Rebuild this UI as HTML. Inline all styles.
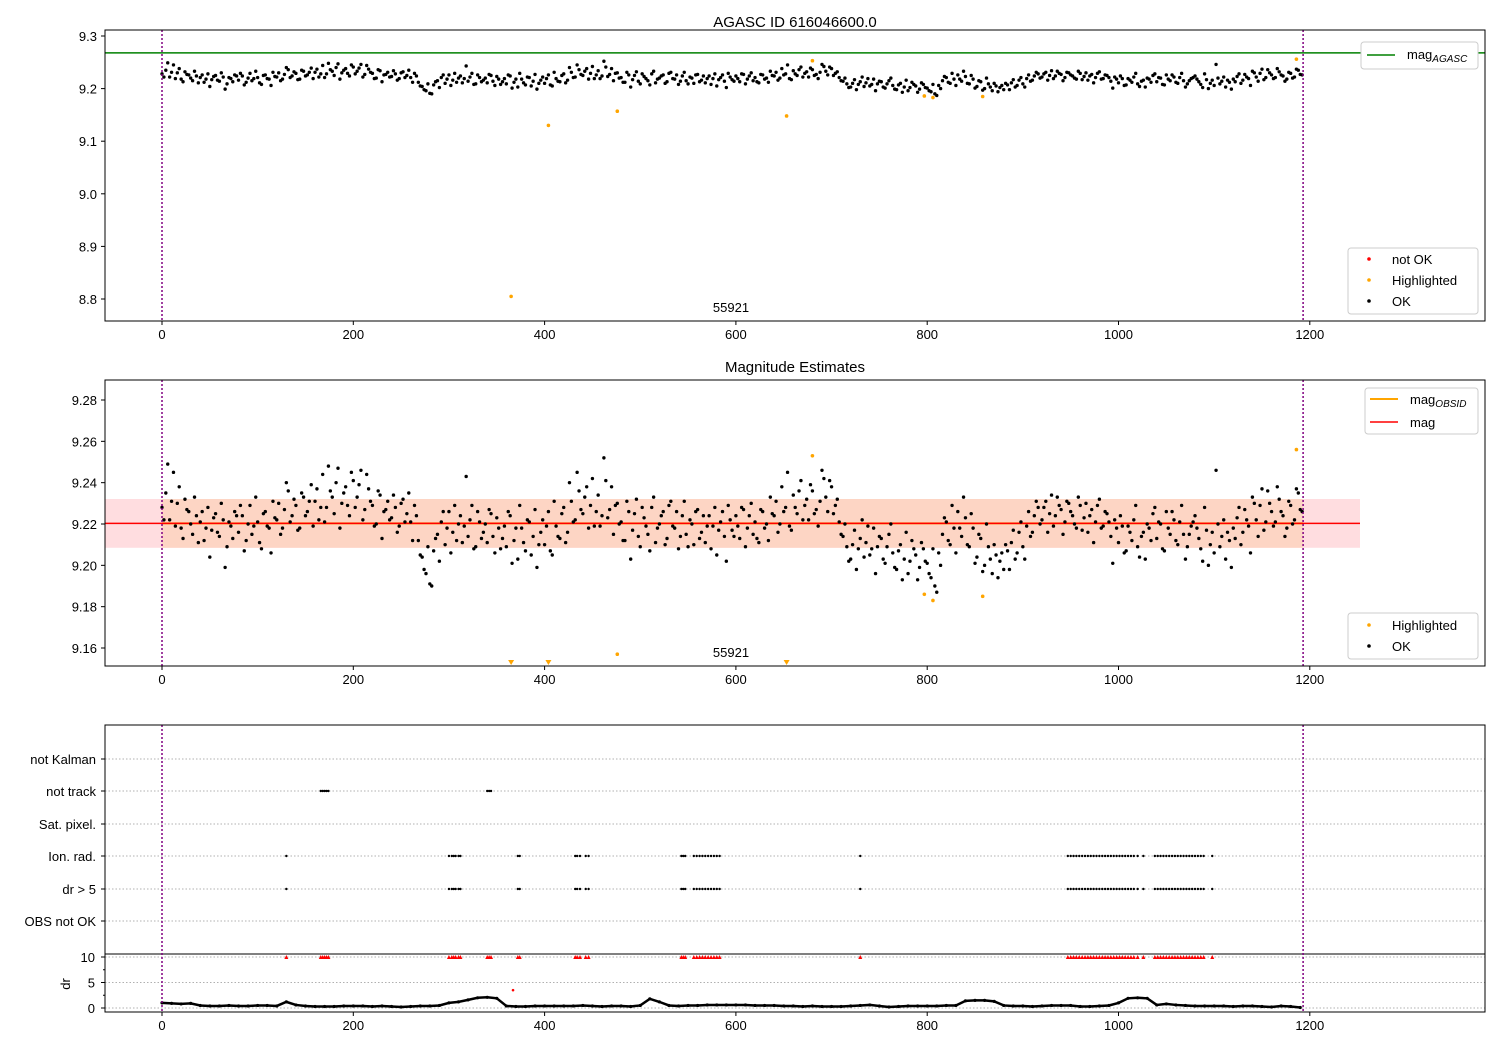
<!DOCTYPE html>
<html><head><meta charset="utf-8"><style>
body{margin:0;background:#fff;}
svg{font-family:"Liberation Sans","DejaVu Sans",sans-serif;}
</style></head><body>
<svg id="c" width="1500" height="1050" xmlns="http://www.w3.org/2000/svg"></svg>
<script>
const magTimesStep = 4;
const magValues = [
9.228,9.235,9.222,9.245,9.230,9.218,9.232,9.226,9.215,9.224,
9.221,9.212,9.228,9.217,9.225,9.214,9.222,9.209,9.219,9.226,
9.216,9.224,9.212,9.229,9.219,9.221,9.208,9.226,9.218,9.231,
9.222,9.215,9.227,9.236,9.224,9.229,9.218,9.233,9.226,9.239,
9.231,9.222,9.244,9.228,9.236,9.225,9.247,9.230,9.238,9.224,
9.241,9.233,9.246,9.227,9.237,9.229,9.220,9.234,9.226,9.231,
9.223,9.228,9.219,9.232,9.225,9.221,9.229,9.212,9.204,9.196,
9.191,9.207,9.215,9.221,9.210,9.226,9.216,9.212,9.224,9.219,
9.214,9.229,9.209,9.221,9.216,9.211,9.225,9.206,9.218,9.213,
9.209,9.224,9.212,9.203,9.218,9.207,9.221,9.214,9.199,9.216,
9.210,9.226,9.205,9.219,9.213,9.228,9.216,9.231,9.222,9.236,
9.225,9.238,9.229,9.219,9.234,9.224,9.241,9.227,9.215,9.230,
9.221,9.212,9.226,9.217,9.232,9.209,9.223,9.215,9.228,9.211,
9.220,9.226,9.213,9.231,9.218,9.208,9.224,9.215,9.222,9.210,
9.227,9.216,9.211,9.224,9.219,9.205,9.221,9.214,9.229,9.217,
9.224,9.213,9.227,9.218,9.230,9.221,9.211,9.226,9.220,9.233,
9.224,9.216,9.238,9.228,9.219,9.234,9.225,9.241,9.229,9.222,
9.236,9.227,9.231,9.242,9.226,9.238,9.229,9.221,9.214,9.209,
9.203,9.217,9.208,9.222,9.211,9.205,9.218,9.209,9.213,9.201,
9.215,9.206,9.198,9.210,9.203,9.196,9.212,9.205,9.199,9.208,
9.201,9.194,9.190,9.206,9.215,9.221,9.210,9.218,9.226,9.214,
9.223,9.209,9.218,9.204,9.213,9.200,9.209,9.196,9.205,9.202,
9.198,9.207,9.211,9.203,9.216,9.209,9.219,9.214,9.224,9.228,
9.222,9.231,9.225,9.219,9.233,9.227,9.221,9.230,9.224,9.218,
9.229,9.223,9.216,9.227,9.221,9.232,9.219,9.225,9.214,9.222,
9.211,9.219,9.207,9.216,9.222,9.209,9.214,9.203,9.218,9.225,
9.213,9.220,9.207,9.218,9.226,9.212,9.221,9.215,9.209,9.219,
9.224,9.213,9.202,9.217,9.210,9.206,9.220,9.214,9.203,9.212,
9.218,9.223,9.210,9.227,9.219,9.233,9.222,9.229,9.217,9.236,
9.226,9.221,9.232,9.224,9.218,9.229,9.222,9.235,9.226];
// second interleaved set at t = 2, 6, 10, ...
const magValuesB = [
9.222,9.249,9.231,9.219,9.238,9.213,9.227,9.220,9.233,9.211,
9.226,9.218,9.204,9.223,9.216,9.230,9.199,9.221,9.213,9.224,
9.229,9.207,9.220,9.215,9.233,9.211,9.225,9.219,9.206,9.223,
9.230,9.218,9.240,9.221,9.232,9.217,9.235,9.224,9.231,9.219,
9.237,9.228,9.221,9.248,9.233,9.240,9.218,9.235,9.229,9.245,
9.228,9.239,9.222,9.244,9.231,9.219,9.236,9.213,9.227,9.222,
9.234,9.216,9.230,9.221,9.235,9.212,9.224,9.205,9.198,9.209,
9.190,9.213,9.202,9.226,9.218,9.206,9.229,9.220,9.211,9.243,
9.222,9.208,9.226,9.213,9.220,9.227,9.214,9.223,9.208,9.219,
9.226,9.201,9.218,9.229,9.211,9.222,9.205,9.227,9.210,9.222,
9.219,9.207,9.231,9.214,9.225,9.211,9.240,9.221,9.245,9.227,
9.233,9.218,9.242,9.226,9.219,9.252,9.223,9.238,9.229,9.220,
9.212,9.231,9.203,9.225,9.214,9.228,9.219,9.207,9.233,9.218,
9.224,9.210,9.229,9.219,9.226,9.214,9.231,9.209,9.220,9.226,
9.213,9.224,9.219,9.208,9.228,9.217,9.226,9.202,9.222,9.214,
9.219,9.228,9.209,9.224,9.215,9.213,9.227,9.218,9.212,9.225,
9.231,9.220,9.226,9.245,9.217,9.228,9.236,9.222,9.232,9.239,
9.225,9.219,9.246,9.233,9.241,9.225,9.232,9.215,9.220,9.202,
9.210,9.198,9.213,9.204,9.219,9.208,9.196,9.214,9.203,9.209,
9.220,9.199,9.207,9.193,9.216,9.202,9.208,9.193,9.211,9.202,
9.196,9.208,9.187,9.200,9.223,9.212,9.229,9.206,9.218,9.233,
9.210,9.225,9.201,9.215,9.197,9.220,9.203,9.210,9.194,9.206,
9.210,9.198,9.217,9.206,9.221,9.203,9.226,9.216,9.231,9.220,
9.228,9.216,9.234,9.224,9.229,9.215,9.231,9.226,9.220,9.233,
9.217,9.230,9.224,9.211,9.229,9.218,9.226,9.221,9.201,9.218,
9.224,9.206,9.219,9.212,9.229,9.204,9.216,9.220,9.212,9.228,
9.221,9.208,9.226,9.215,9.222,9.210,9.229,9.203,9.215,9.221,
9.218,9.208,9.228,9.200,9.216,9.246,9.209,9.222,9.216,9.199,
9.213,9.228,9.216,9.222,9.206,9.230,9.214,9.237,9.221,9.230,
9.219,9.238,9.226,9.214,9.231,9.220,9.237,9.227];
const hiTimes = [365,404,476,653,680,797,806,858,1186];
const hiValues = [8.805,9.13,9.157,9.148,9.253,9.186,9.183,9.185,9.256];
const drStep = 10;
const drValues = [
1.0,0.9,0.8,0.9,0.5,0.4,0.4,0.5,0.4,0.4,
0.5,0.5,0.4,1.2,0.6,0.4,0.3,0.3,0.3,0.4,
0.4,0.4,0.3,0.4,0.3,0.2,0.3,0.4,0.4,0.5,
1.0,1.2,1.6,2.0,2.1,1.9,0.4,0.3,0.3,0.4,
0.4,0.4,0.4,0.4,0.5,0.4,0.3,0.4,0.4,0.3,
0.5,1.8,1.2,0.5,0.4,0.5,0.5,0.6,0.6,0.6,
0.6,0.6,0.5,0.5,0.5,0.4,0.4,0.3,0.4,0.3,
0.3,0.3,0.4,0.5,0.6,0.4,0.2,0.3,0.4,0.4,
0.4,0.4,0.5,0.5,1.4,1.5,1.5,1.3,0.5,0.4,
0.4,0.3,0.4,0.5,0.5,0.5,0.3,0.3,0.4,0.5,
1.0,1.9,2.0,1.9,0.6,0.8,0.6,0.5,0.4,0.4,
0.4,0.4,0.3,0.4,0.4,0.3,0.2,0.4,0.3,0.1];
const ionTimes = [130,300,303,305,307,310,312,372,374,432,434,437,443,446,543,545,547,556,559,562,565,568,571,574,577,580,583,730,
947,950,953,956,959,962,965,968,971,974,977,980,983,986,989,992,995,998,1001,1004,1007,1010,1013,1016,1020,1026,
1038,1041,1044,1047,1050,1053,1056,1059,1062,1065,1068,1071,1074,1077,1080,1083,1086,1089,1098];
const notTrackTimes = [166,168,170,172,174,340,342,344];
const flagRows = ["not Kalman","not track","Sat. pixel.","Ion. rad.","dr > 5","OBS not OK"];
const xTicks = [0,200,400,600,800,1000,1200];
const y1Ticks = [9.3,9.2,9.1,9.0,8.9,8.8];
const y2Ticks = [9.28,9.26,9.24,9.22,9.20,9.18,9.16];
const drTicks = [0,5,10];
const magAgasc = 9.268, magObs = 9.2203, magSigma = 0.0118;
const tEnd = 1193;

const NS="http://www.w3.org/2000/svg", svg=document.getElementById('c');
function el(tag, attrs, parent){const e=document.createElementNS(NS,tag);for(const k in attrs)e.setAttribute(k,attrs[k]);(parent||svg).appendChild(e);return e;}
function txt(s,x,y,anchor,size,parent){const t=el('text',{x:x,y:y,'text-anchor':anchor||'middle','font-size':size||13,fill:'#000'},parent);t.textContent=s;return t;}
const X0=105,X1=1485;
const xs=t=>162+t*0.9565;
const y1=v=>36+(9.3-v)*526;
const y2=v=>400+(9.28-v)*2066.7;
const yDr=v=>1008-v*5.1;
const rowY=[759,791,824,856,889,921];
const allMag=[];
magValues.forEach((v,i)=>allMag.push([i*magTimesStep,v]));
magValuesB.forEach((v,i)=>allMag.push([2+i*magTimesStep,v]));

function frame(top,bot,name){const r=el('rect',{x:X0,y:top,width:X1-X0,height:bot-top,fill:'none',stroke:'#000','stroke-width':1});

}
function xAxis(bot,name){const g=el('g',{});


xTicks.forEach(t=>{el('line',{x1:xs(t),x2:xs(t),y1:bot,y2:bot+4,stroke:'#000'},g);txt(String(t),xs(t),bot+18,'middle',13,g);});}
function vlines(top,bot){[0,tEnd].forEach(t=>{const l=el('line',{x1:xs(t),x2:xs(t),y1:top,y2:bot,stroke:'purple','stroke-width':1.5,'stroke-dasharray':'2,2'});

});}

// ---- Panel 1
txt('AGASC ID 616046600.0',795,27,'middle',15);
const g1=el('g',{});


y1Ticks.forEach(v=>{el('line',{x1:X0-4,x2:X0,y1:y1(v),y2:y1(v),stroke:'#000'},g1);txt(v.toFixed(1),X0-8,y1(v)+5,'end',13,g1);});
const ag=el('line',{x1:X0,x2:X1,y1:y1(magAgasc),y2:y1(magAgasc),stroke:'green','stroke-width':1.5});


const p1=el('g',{});


allMag.forEach(p=>el('circle',{cx:xs(p[0]),cy:y1(p[1]),r:1.7,fill:'#000'},p1));
const h1=el('g',{});


hiTimes.forEach((t,i)=>el('circle',{cx:xs(t),cy:y1(hiValues[i]),r:1.8,fill:'orange'},h1));
vlines(30,321);
txt('55921',731,312,'middle',13);
frame(30,321,'panel1-frame');
xAxis(321,'panel1-x-axis');
let lg=el('g',{});


el('rect',{x:1361,y:42,width:117,height:27,rx:3,fill:'#fff',stroke:'#ccc'},lg);
el('line',{x1:1367,x2:1395,y1:55,y2:55,stroke:'green','stroke-width':1.5},lg);
let t=txt('mag',1407,59,'start',13,lg);const s=el('tspan',{'font-size':10,'font-style':'italic',dy:3},t);s.textContent='AGASC';
lg=el('g',{});


el('rect',{x:1348,y:248,width:130,height:66,rx:3,fill:'#fff',stroke:'#ccc'},lg);
[['red','not OK',259],['orange','Highlighted',280],['#000','OK',301]].forEach(a=>{el('circle',{cx:1369,cy:a[2],r:1.8,fill:a[0]},lg);txt(a[1],1392,a[2]+5,'start',13,lg);});

// ---- Panel 2
txt('Magnitude Estimates',795,372,'middle',15);
const g2=el('g',{});


y2Ticks.forEach(v=>{el('line',{x1:X0-4,x2:X0,y1:y2(v),y2:y2(v),stroke:'#000'},g2);txt(v.toFixed(2),X0-8,y2(v)+5,'end',13,g2);});
let b=el('rect',{x:X0,y:y2(magObs+magSigma),width:1360-X0,height:y2(magObs-magSigma)-y2(magObs+magSigma),fill:'#ffdde0'});


b=el('rect',{x:xs(0),y:y2(magObs+magSigma),width:xs(tEnd)-xs(0),height:y2(magObs-magSigma)-y2(magObs+magSigma),fill:'#fdd5c4'});


let l=el('line',{x1:xs(0),x2:xs(tEnd),y1:y2(magObs),y2:y2(magObs),stroke:'orange','stroke-width':2});


l=el('line',{x1:X0,x2:1360,y1:y2(magObs),y2:y2(magObs),stroke:'red','stroke-width':1.5});


const p2=el('g',{});


allMag.forEach(p=>el('circle',{cx:xs(p[0]),cy:y2(p[1]),r:1.7,fill:'#000'},p2));
const h2=el('g',{});


hiTimes.forEach((t,i)=>{const v=hiValues[i];if(v<9.151){const x=xs(t);el('path',{d:`M${x-3},660 L${x+3},660 L${x},665 Z`,fill:'orange'},h2);}else el('circle',{cx:xs(t),cy:y2(v),r:1.8,fill:'orange'},h2);});
vlines(380,666);
txt('55921',731,657,'middle',13);
frame(380,666,'panel2-frame');
xAxis(666,'panel2-x-axis');
lg=el('g',{});


el('rect',{x:1365,y:388,width:113,height:46,rx:3,fill:'#fff',stroke:'#ccc'},lg);
el('line',{x1:1370,x2:1398,y1:399,y2:399,stroke:'orange','stroke-width':2},lg);
t=txt('mag',1410,404,'start',13,lg);const s2=el('tspan',{'font-size':10,'font-style':'italic',dy:3},t);s2.textContent='OBSID';
el('line',{x1:1370,x2:1398,y1:422,y2:422,stroke:'red','stroke-width':1.5},lg);
txt('mag',1410,427,'start',13,lg);
lg=el('g',{});


el('rect',{x:1348,y:613,width:130,height:46,rx:3,fill:'#fff',stroke:'#ccc'},lg);
[['orange','Highlighted',625],['#000','OK',646]].forEach(a=>{el('circle',{cx:1369,cy:a[2],r:1.8,fill:a[0]},lg);txt(a[1],1392,a[2]+5,'start',13,lg);});

// ---- Panel 3
const g3=el('g',{});


flagRows.forEach((n,i)=>{el('line',{x1:X0,x2:X1,y1:rowY[i],y2:rowY[i],stroke:'#b0b0b0','stroke-dasharray':'1.5,2'},g3);el('line',{x1:X0-4,x2:X0,y1:rowY[i],y2:rowY[i],stroke:'#000'},g3);txt(n,96,rowY[i]+5,'end',13,g3);});
drTicks.forEach(v=>{el('line',{x1:X0,x2:X1,y1:yDr(v),y2:yDr(v),stroke:'#b0b0b0','stroke-dasharray':'1.5,2'},g3);el('line',{x1:X0-4,x2:X0,y1:yDr(v),y2:yDr(v),stroke:'#000'},g3);txt(String(v),X0-10,yDr(v)+5,'end',13,g3);});
[2.5,7.5].forEach(v=>el('line',{x1:X0-2,x2:X0,y1:yDr(v),y2:yDr(v),stroke:'#000'},g3));
const dl=el('text',{x:70,y:984,'font-size':13,'text-anchor':'middle',transform:'rotate(-90 70 984)'});dl.textContent='dr';


el('line',{x1:X0,x2:X1,y1:954,y2:954,stroke:'#000'});
const fi=el('g',{});


ionTimes.forEach(t=>{el('circle',{cx:xs(t),cy:rowY[3],r:1.2,fill:'#000'},fi);el('circle',{cx:xs(t),cy:rowY[4],r:1.2,fill:'#000'},fi);});
notTrackTimes.forEach(t=>el('circle',{cx:xs(t),cy:rowY[1],r:1.2,fill:'#000'},fi));
const tr=el('g',{});


ionTimes.concat(notTrackTimes).forEach(t=>{const x=xs(t),y=yDr(10);el('path',{d:`M${x-2},${y+2} L${x+2},${y+2} L${x},${y-2} Z`,fill:'red'},tr);});
el('circle',{cx:xs(367),cy:yDr(3.5),r:1.3,fill:'red'},tr);
const dg=el('g',{});


el('polyline',{points:drValues.map((v,i)=>xs(i*drStep)+','+yDr(v)).join(' '),fill:'none',stroke:'#000','stroke-width':2.5},dg);
drValues.forEach((v,i)=>el('circle',{cx:xs(i*drStep),cy:yDr(v),r:1.6,fill:'#000'},dg));
vlines(725,1012);
frame(725,1012,'panel3-frame');
xAxis(1012,'panel3-x-axis');
</script>
</body></html>
